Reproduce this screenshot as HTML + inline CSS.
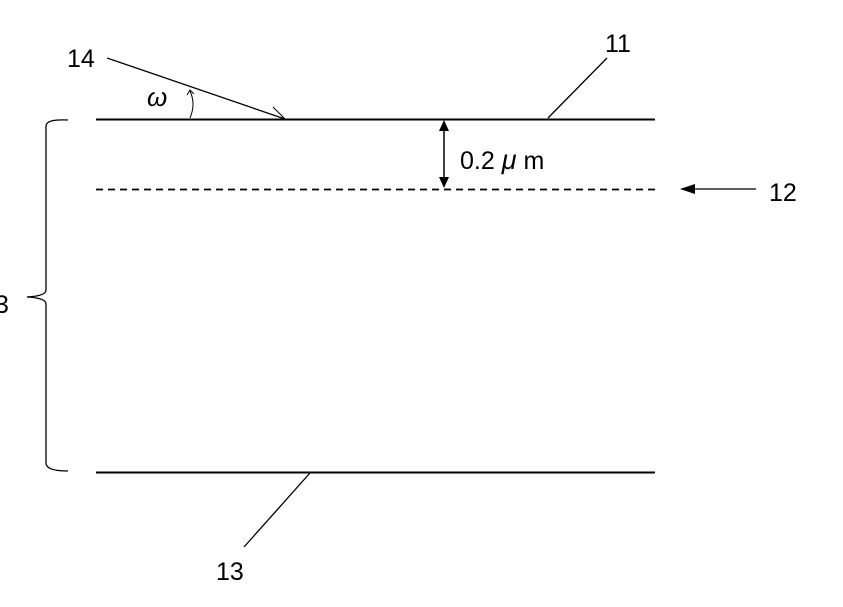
<!DOCTYPE html>
<html><head><style>
html,body{margin:0;padding:0;background:#fff;width:843px;height:607px;overflow:hidden}
svg text{font-family:"Liberation Sans","Noto Sans CJK JP",sans-serif;fill:#000}
</style></head><body>
<svg width="843" height="607" viewBox="0 0 843 607" xmlns="http://www.w3.org/2000/svg">
<g stroke="#000" fill="none">
<line x1="96" y1="119.5" x2="655" y2="119.5" stroke-width="2"/>
<line x1="96" y1="189.5" x2="655" y2="189.5" stroke-width="1.8" stroke-dasharray="7,5"/>
<line x1="96" y1="472.5" x2="655" y2="472.5" stroke-width="2"/>
<line x1="107" y1="58" x2="285" y2="119" stroke-width="1.3"/>
<path d="M273 107 L285 119" stroke-width="1"/>
<path d="M190 91 Q196 104 190 118" stroke-width="1"/>
<path d="M187 95 L190 90 L194 94" stroke-width="1"/>
<line x1="548" y1="118" x2="607" y2="58" stroke-width="1.3"/>
<line x1="444" y1="128" x2="444" y2="181" stroke-width="1.5"/>
<line x1="695" y1="189" x2="756" y2="189" stroke-width="1.3"/>
<line x1="244" y1="547" x2="310" y2="473" stroke-width="1.3"/>
<path d="M68 120 Q46 119 46 126 L46 290 Q46 296 27 297 Q46 298 46 304 L46 463 Q46 471 68 471" stroke-width="1.3"/>
</g>
<g fill="#000">
<polygon points="444,120 439,131 449,131"/>
<polygon points="444,188 439,177 449,177"/>
<polygon points="680,189 695,184 695,194"/>
</g>
<text x="67" y="67" font-size="25">14</text>
<text x="147" y="106" font-size="26" font-style="italic">ω</text>
<text x="605" y="52" font-size="25">11</text>
<text x="460" y="169" font-size="25">0.2 <tspan font-style="italic" font-size="27">μ</tspan> m</text>
<text x="769" y="201" font-size="25">12</text>
<text x="-5" y="313" font-size="25">3</text>
<text x="216" y="580" font-size="25">13</text>
</svg>
</body></html>
